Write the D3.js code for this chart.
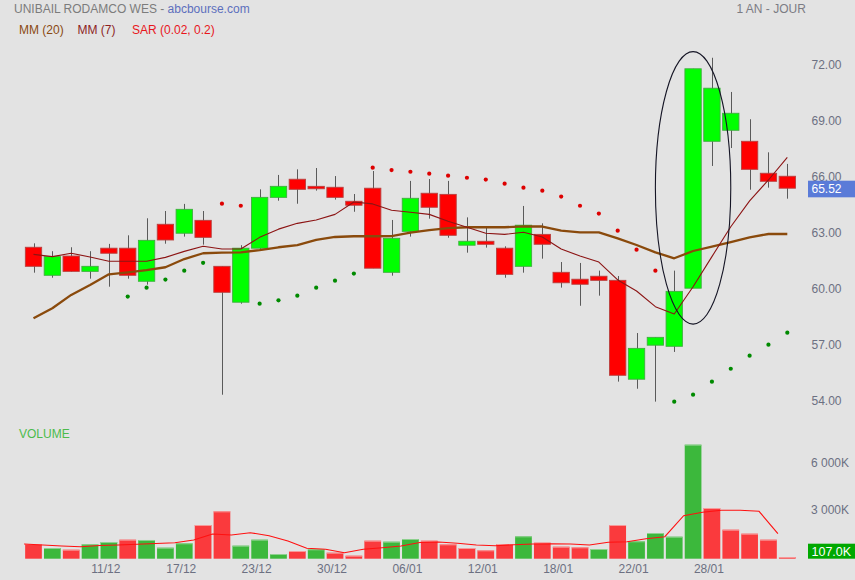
<!DOCTYPE html>
<html>
<head>
<meta charset="utf-8">
<script src="https://cdn.jsdelivr.net/npm/d3@7/dist/d3.min.js"></script>
<style>
  html, body { margin: 0; padding: 0; background: #e3e3e3; }
  svg { display: block; font-family: "Liberation Sans", Arial, sans-serif; }
</style>
</head>
<body>
<svg id="chart" width="855" height="580"></svg>
<script>
// ---------- DATA ----------
const dates = ["07/12","08/12","09/12","10/12","11/12","14/12","15/12","16/12","17/12","18/12",
  "21/12","22/12","23/12","24/12","28/12","29/12","30/12","31/12","04/01","05/01",
  "06/01","07/01","08/01","11/01","12/01","13/01","14/01","15/01","18/01","19/01",
  "20/01","21/01","22/01","25/01","26/01","27/01","28/01","29/01","01/02","02/02","03/02"];
const opens  = [62.21,60.71,61.74,60.92,62.16,62.16,60.39,63.44,62.96,63.65,
  61.19,59.27,62.16,64.88,65.85,65.47,65.42,64.67,65.37,60.87,
  63.06,65.10,65.04,62.32,62.53,62.16,61.19,62.90,60.87,60.50,
  60.66,60.44,55.15,56.97,56.91,60.02,67.88,68.47,67.88,66.17,66.01];
const highs  = [62.42,62.00,62.21,62.00,62.39,62.85,63.76,64.15,64.53,64.15,
  61.19,62.32,65.31,66.08,66.38,66.45,66.02,65.06,66.29,63.67,
  65.76,65.86,65.76,63.81,63.33,62.26,64.42,63.49,61.42,61.37,
  60.96,60.67,57.62,57.39,60.96,71.76,72.35,70.52,69.06,67.29,66.67];
const lows   = [60.85,60.58,60.90,60.53,60.10,60.53,60.21,62.40,62.78,62.35,
  54.32,59.19,62.10,64.70,64.54,65.24,64.76,64.11,61.09,60.69,
  62.78,63.74,62.72,61.92,62.19,60.58,60.85,61.60,60.05,59.08,
  59.62,55.02,54.64,53.95,56.61,60.02,66.56,67.52,65.29,65.40,64.81];
const closes = [61.19,61.71,60.92,61.19,61.89,60.71,62.58,62.60,64.24,62.74,
  59.80,62.16,64.88,65.47,65.31,65.34,64.88,64.46,61.09,62.69,
  64.83,64.35,62.85,62.53,62.37,60.76,63.39,62.37,60.31,60.23,
  60.44,55.36,56.80,57.39,59.85,71.76,70.72,69.38,66.38,65.74,65.37];
const lastPrice = 65.52;

const mm20 = [58.41,58.95,59.66,60.19,60.76,60.87,60.99,61.14,61.58,61.89,
  61.92,61.94,62.06,62.21,62.33,62.60,62.76,62.80,62.80,62.81,
  62.99,63.13,63.23,63.28,63.28,63.28,63.33,63.32,63.10,63.01,
  63.01,62.69,62.33,61.94,61.62,62.01,62.24,62.49,62.74,62.92,62.92];
const mm7 = [61.83,61.71,61.89,61.69,61.46,61.46,61.46,61.67,61.99,62.26,
  62.12,62.12,62.74,63.18,63.49,63.67,63.97,64.63,64.53,64.19,
  64.08,63.97,63.60,63.28,62.96,62.90,63.01,62.76,62.12,61.74,
  61.42,60.46,59.87,59.03,58.64,60.10,61.71,63.31,64.69,65.81,67.02];
// Parabolic SAR (null = not drawn)
const sar = [null,null,null,null,null,59.57,60.05,60.48,60.96,61.38,
  64.54,64.43,59.19,59.37,59.62,60.05,60.42,60.80,66.47,66.34,
  66.25,66.15,66.04,65.93,65.83,65.61,65.40,65.24,64.92,64.43,
  64.01,63.10,62.08,60.96,53.95,54.32,55.02,55.71,56.41,57.00,57.64];

// volumes in thousands
const volumes = [938,683,574,919,1066,1213,1194,702,983,2151,
  3025,830,1213,300,491,600,383,191,1149,1085,
  1257,1149,919,683,536,938,1430,1021,766,728,
  619,2151,1111,1640,1404,7277,3236,1851,1596,1213,107];
const volMA = [938,874,811,766,843,874,919,970,1021,1194,
  1577,1513,1660,1468,1130,664,600,383,600,702,
  811,1034,1066,983,874,830,894,938,957,938,
  874,1047,1085,1277,1404,2745,2962,3089,3089,3025,1596];

const tickLabels = ["11/12","17/12","23/12","30/12","06/01","12/01","18/01","22/01","28/01"];
const priceTicks = [54,57,60,63,66,69,72];
const volumeTicks = [3000,6000];

// annotation ellipse (index of the candle, price span, half width in candle steps)
const ellipseIdx = 35, ellipseTop = 72.68, ellipseBottom = 58.10, ellipseHalfSteps = 2.0;

// ---------- CHART ----------
const svg = d3.select("#chart");
svg.append("rect").attr("width",855).attr("height",580).attr("fill","#e3e3e3");

const x = d3.scalePoint().domain(dates).range([33.5, 787.3]);
const step = x.step();
const y = d3.scaleLinear().domain([54,72]).range([400.7, 64.3]);
const yv = d3.scaleLinear().domain([0,6000]).range([558.7, 464.7]);

// header texts
const head = svg.append("text").attr("x",14).attr("y",13).attr("font-size",12);
head.append("tspan").attr("fill","#7c7c7c").text("UNIBAIL RODAMCO WES - ");
head.append("tspan").attr("fill","#5d6fbd").text("abcbourse.com");
svg.append("text").attr("x",736.5).attr("y",13).attr("font-size",12).attr("fill","#7c7c84").text("1 AN - JOUR");

const legend = [
  {t:"MM (20)", c:"#8a4a12", x:19},
  {t:"MM (7)", c:"#8c1f1f", x:77.5},
  {t:"SAR (0.02, 0.2)", c:"#e8161c", x:132}
];
svg.selectAll("text.leg").data(legend).join("text").attr("class","leg")
  .attr("x",d=>d.x).attr("y",33.5).attr("font-size",12).attr("fill",d=>d.c).text(d=>d.t);

svg.append("text").attr("x",19).attr("y",438).attr("font-size",12).attr("fill","#4cbb4c").text("VOLUME");

// price axis
const yAxis = svg.append("g").attr("transform","translate(811.5,0)")
  .call(d3.axisRight(y).tickValues(priceTicks).tickFormat(d3.format(".2f")).tickSize(0).tickPadding(0));
yAxis.select(".domain").remove();
yAxis.selectAll("text").attr("fill","#6c7082").attr("font-size",12).attr("font-family","Liberation Sans, Arial, sans-serif");

// volume axis
const vfmt = d => d3.format(",")(d).replace(/,/g," ") + "K";
const vAxis = svg.append("g").attr("transform","translate(811,-2)")
  .call(d3.axisRight(yv).tickValues(volumeTicks).tickFormat(vfmt).tickSize(0).tickPadding(0));
vAxis.select(".domain").remove();
vAxis.selectAll("text").attr("fill","#6c7082").attr("font-size",12).attr("font-family","Liberation Sans, Arial, sans-serif");

// x axis
const xAxis = svg.append("g").attr("transform","translate(-3.5,558.7)")
  .call(d3.axisBottom(x).tickValues(tickLabels).tickSize(0).tickPadding(6));
xAxis.select(".domain").remove();
xAxis.selectAll("text").attr("fill","#6c7082").attr("font-size",12).attr("font-family","Liberation Sans, Arial, sans-serif");

// candles
const candles = dates.map((d,i)=>({d, o:opens[i], h:highs[i], l:lows[i], c:closes[i]}));
const cw = step*0.866;
const cg = svg.append("g");
cg.selectAll("line.wick").data(candles).join("line")
  .attr("x1",d=>Math.round(x(d.d))+0.5).attr("x2",d=>Math.round(x(d.d))+0.5)
  .attr("y1",d=>y(d.h)).attr("y2",d=>y(d.l))
  .attr("stroke","#5a5a5a").attr("stroke-width",1);
cg.selectAll("rect.body").data(candles).join("rect")
  .attr("x",d=>x(d.d)-cw/2).attr("width",cw)
  .attr("y",d=>y(Math.max(d.o,d.c)))
  .attr("height",d=>Math.max(1.5, Math.abs(y(d.o)-y(d.c))))
  .attr("fill",d=>d.c>=d.o ? "#00ff00" : "#ff0000")
  .attr("stroke",d=>d.c>=d.o ? "#3fae3f" : "#b9403f")
  .attr("stroke-width",0.9);

// moving averages
const line = d3.line().x((d,i)=>x(dates[i])).y(d=>y(d));
svg.append("path").attr("d",line(mm20)).attr("fill","none")
  .attr("stroke","#8a4a0c").attr("stroke-width",2.3).attr("stroke-linejoin","round");
svg.append("path").attr("d",line(mm7)).attr("fill","none")
  .attr("stroke","#8c1414").attr("stroke-width",1.1).attr("stroke-linejoin","round");

// SAR dots
const sarPts = sar.map((v,i)=>({v,i})).filter(d=>d.v!==null);
svg.selectAll("circle.sar").data(sarPts).join("circle")
  .attr("cx",d=>x(dates[d.i])).attr("cy",d=>y(d.v)).attr("r",2.1)
  .attr("fill",d=>d.v>closes[d.i] ? "#dd0000" : "#008a00");

// annotation ellipse
svg.append("ellipse")
  .attr("cx",x(dates[ellipseIdx])).attr("cy",(y(ellipseTop)+y(ellipseBottom))/2)
  .attr("rx",ellipseHalfSteps*step).attr("ry",(y(ellipseBottom)-y(ellipseTop))/2)
  .attr("fill","none").attr("stroke","#151525").attr("stroke-width",1.1);

// price tag
const tagY = y(closes[closes.length-1]) + 0.8;
svg.append("rect").attr("x",808).attr("y",tagY-8.3).attr("width",47).attr("height",16.6).attr("fill","#5a7bd8");
svg.append("text").attr("x",811.5).attr("y",tagY).attr("dy","0.36em").attr("font-size",12)
  .attr("fill","#ffffff").text(d3.format(".2f")(lastPrice));

// volume bars
const vw = step*0.886;
const up = volumes.map((v,i)=> i===0 ? closes[0]>=opens[0] : closes[i]>=closes[i-1]);
const vg = svg.append("g");
vg.selectAll("rect.vol").data(volumes).join("rect")
  .attr("x",(d,i)=>x(dates[i])-vw/2).attr("width",vw)
  .attr("y",d=>yv(d)).attr("height",d=>yv(0)-yv(d))
  .attr("fill",(d,i)=>up[i] ? "#3cb83c" : "#fa3a3d");
vg.selectAll("rect.voltop").data(volumes).join("rect")
  .attr("x",(d,i)=>x(dates[i])-vw/2).attr("width",vw)
  .attr("y",d=>yv(d)).attr("height",1)
  .attr("fill",(d,i)=>up[i] ? "#8fd08f" : "#f79a9a");

// volume MA (drawn at bar left edges)
const vline = d3.line().x((d,i)=>x(dates[i])-step/2).y(d=>yv(d));
svg.append("path").attr("d",vline(volMA)).attr("fill","none")
  .attr("stroke","#ff1010").attr("stroke-width",1.1);

// volume tag
const lastV = volumes[volumes.length-1];
const vTagBottom = Math.min(yv(lastV)+7.5, yv(0));
svg.append("rect").attr("x",808).attr("y",vTagBottom-15).attr("width",47).attr("height",15).attr("fill","#00a800");
svg.append("text").attr("x",811.5).attr("y",vTagBottom-7.5).attr("dy","0.35em").attr("font-size",12.5)
  .attr("fill","#ffffff").text(d3.format(".1f")(lastV)+"K");
</script>
</body>
</html>
